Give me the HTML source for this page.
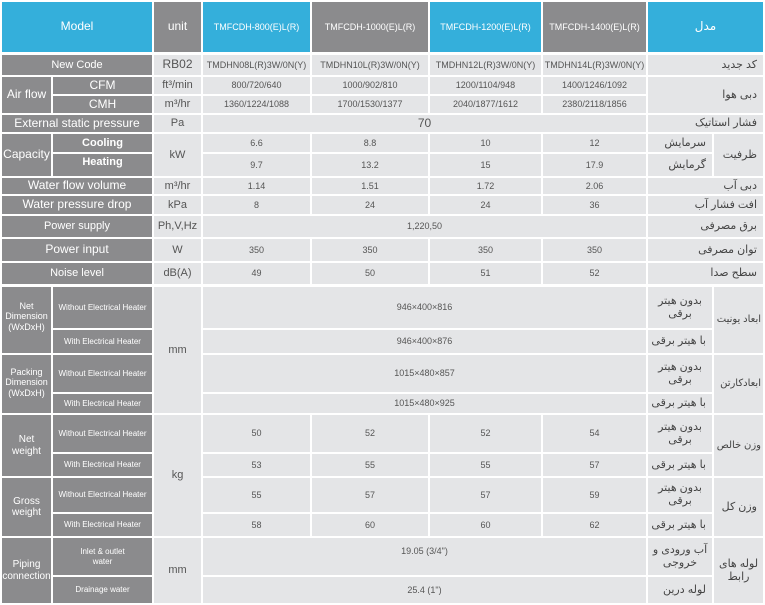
<!DOCTYPE html>
<html><head><meta charset="utf-8"><style>
body{margin:0;width:765px;height:605px;background:#fff;position:relative;overflow:hidden;font-family:"Liberation Sans",sans-serif}
.c{position:absolute;display:flex;align-items:center;justify-content:center;text-align:center;box-sizing:border-box;line-height:1.15}
.g{background:#8b8b8d;color:#fff;font-size:11px}
.gs{background:#8b8b8d;color:#fff;font-size:8px}
.b{background:#34afdb;color:#fff;font-size:9px}
.u{background:#e4e5e7;color:#555;font-size:11px}
.d{background:#e4e5e7;color:#555;font-size:9px}
.p{background:#e4e5e7;color:#444;font-size:11px;font-family:"Liberation Sans","DejaVu Sans",sans-serif;direction:rtl;justify-content:flex-start;padding-right:6px;white-space:nowrap}
.s{font-size:10px;padding-right:2px}
</style></head><body>
<!-- header -->
<div class="c b" style="left:2px;top:2px;width:150px;height:50px;font-size:12px">Model</div>
<div class="c g" style="left:154px;top:2px;width:47px;height:50px;font-size:12px">unit</div>
<div class="c b" style="left:203px;top:2px;width:107px;height:50px">TMFCDH-800(E)L(R)</div>
<div class="c g" style="left:312px;top:2px;width:116px;height:50px;font-size:9px">TMFCDH-1000(E)L(R)</div>
<div class="c b" style="left:430px;top:2px;width:111px;height:50px">TMFCDH-1200(E)L(R)</div>
<div class="c g" style="left:543px;top:2px;width:103px;height:50px;font-size:9px">TMFCDH-1400(E)L(R)</div>
<div class="c b" style="left:648px;top:2px;width:115px;height:50px;font-size:12px;font-family:'DejaVu Sans',sans-serif">مدل</div>

<!-- New code -->
<div class="c g" style="left:2px;top:55px;width:150px;height:20px">New Code</div>
<div class="c u" style="left:154px;top:55px;width:47px;height:20px;font-size:12px">RB02</div>
<div class="c d" style="left:203px;top:55px;width:107px;height:20px">TMDHN08L(R)3W/0N(Y)</div>
<div class="c d" style="left:312px;top:55px;width:116px;height:20px">TMDHN10L(R)3W/0N(Y)</div>
<div class="c d" style="left:430px;top:55px;width:111px;height:20px">TMDHN12L(R)3W/0N(Y)</div>
<div class="c d" style="left:543px;top:55px;width:103px;height:20px">TMDHN14L(R)3W/0N(Y)</div>
<div class="c p" style="left:648px;top:55px;width:115px;height:20px">کد جدید</div>

<!-- Air flow -->
<div class="c g" style="left:2px;top:77px;width:49px;height:36px;font-size:12px">Air flow</div>
<div class="c g" style="left:53px;top:77px;width:99px;height:17px;font-size:12px">CFM</div>
<div class="c g" style="left:53px;top:96px;width:99px;height:17px;font-size:12px">CMH</div>
<div class="c u" style="left:154px;top:77px;width:47px;height:17px">ft³/min</div>
<div class="c u" style="left:154px;top:96px;width:47px;height:17px">m³/hr</div>
<div class="c d" style="left:203px;top:77px;width:107px;height:17px">800/720/640</div>
<div class="c d" style="left:312px;top:77px;width:116px;height:17px">1000/902/810</div>
<div class="c d" style="left:430px;top:77px;width:111px;height:17px">1200/1104/948</div>
<div class="c d" style="left:543px;top:77px;width:103px;height:17px">1400/1246/1092</div>
<div class="c d" style="left:203px;top:96px;width:107px;height:17px">1360/1224/1088</div>
<div class="c d" style="left:312px;top:96px;width:116px;height:17px">1700/1530/1377</div>
<div class="c d" style="left:430px;top:96px;width:111px;height:17px">2040/1877/1612</div>
<div class="c d" style="left:543px;top:96px;width:103px;height:17px">2380/2118/1856</div>
<div class="c p" style="left:648px;top:77px;width:115px;height:36px">دبی هوا</div>

<!-- ESP -->
<div class="c g" style="left:2px;top:115px;width:150px;height:17px;font-size:12px">External static pressure</div>
<div class="c u" style="left:154px;top:115px;width:47px;height:17px">Pa</div>
<div class="c d" style="left:203px;top:115px;width:443px;height:17px;font-size:12px">70</div>
<div class="c p" style="left:648px;top:115px;width:115px;height:17px">فشار استاتیک</div>

<!-- Capacity -->
<div class="c g" style="left:2px;top:134px;width:49px;height:42px;font-size:12px">Capacity</div>
<div class="c g" style="left:53px;top:134px;width:99px;height:18px;font-weight:bold">Cooling</div>
<div class="c g" style="left:53px;top:154px;width:99px;height:22px;font-weight:bold;align-items:flex-start;padding-top:2px">Heating</div>
<div class="c u" style="left:154px;top:134px;width:47px;height:42px">kW</div>
<div class="c d" style="left:203px;top:134px;width:107px;height:18px">6.6</div>
<div class="c d" style="left:312px;top:134px;width:116px;height:18px">8.8</div>
<div class="c d" style="left:430px;top:134px;width:111px;height:18px">10</div>
<div class="c d" style="left:543px;top:134px;width:103px;height:18px">12</div>
<div class="c d" style="left:203px;top:154px;width:107px;height:22px">9.7</div>
<div class="c d" style="left:312px;top:154px;width:116px;height:22px">13.2</div>
<div class="c d" style="left:430px;top:154px;width:111px;height:22px">15</div>
<div class="c d" style="left:543px;top:154px;width:103px;height:22px">17.9</div>
<div class="c p" style="left:648px;top:134px;width:64px;height:18px">سرمایش</div>
<div class="c p" style="left:648px;top:154px;width:64px;height:22px">گرمایش</div>
<div class="c p" style="left:714px;top:134px;width:49px;height:42px">ظرفیت</div>

<!-- water flow -->
<div class="c g" style="left:2px;top:178px;width:150px;height:16px;font-size:12px">Water flow volume</div>
<div class="c u" style="left:154px;top:178px;width:47px;height:16px">m³/hr</div>
<div class="c d" style="left:203px;top:178px;width:107px;height:16px">1.14</div>
<div class="c d" style="left:312px;top:178px;width:116px;height:16px">1.51</div>
<div class="c d" style="left:430px;top:178px;width:111px;height:16px">1.72</div>
<div class="c d" style="left:543px;top:178px;width:103px;height:16px">2.06</div>
<div class="c p" style="left:648px;top:178px;width:115px;height:16px">دبی آب</div>

<!-- water pressure -->
<div class="c g" style="left:2px;top:196px;width:150px;height:18px;font-size:12px">Water pressure drop</div>
<div class="c u" style="left:154px;top:196px;width:47px;height:18px">kPa</div>
<div class="c d" style="left:203px;top:196px;width:107px;height:18px">8</div>
<div class="c d" style="left:312px;top:196px;width:116px;height:18px">24</div>
<div class="c d" style="left:430px;top:196px;width:111px;height:18px">24</div>
<div class="c d" style="left:543px;top:196px;width:103px;height:18px">36</div>
<div class="c p" style="left:648px;top:196px;width:115px;height:18px">افت فشار آب</div>

<!-- power supply -->
<div class="c g" style="left:2px;top:216px;width:150px;height:21px">Power supply</div>
<div class="c u" style="left:154px;top:216px;width:47px;height:21px">Ph,V,Hz</div>
<div class="c d" style="left:203px;top:216px;width:443px;height:21px">1,220,50</div>
<div class="c p" style="left:648px;top:216px;width:115px;height:21px">برق مصرفی</div>

<!-- power input -->
<div class="c g" style="left:2px;top:239px;width:150px;height:22px;font-size:12px">Power input</div>
<div class="c u" style="left:154px;top:239px;width:47px;height:22px">W</div>
<div class="c d" style="left:203px;top:239px;width:107px;height:22px">350</div>
<div class="c d" style="left:312px;top:239px;width:116px;height:22px">350</div>
<div class="c d" style="left:430px;top:239px;width:111px;height:22px">350</div>
<div class="c d" style="left:543px;top:239px;width:103px;height:22px">350</div>
<div class="c p" style="left:648px;top:239px;width:115px;height:22px">توان مصرفی</div>

<!-- noise -->
<div class="c g" style="left:2px;top:263px;width:150px;height:21px">Noise level</div>
<div class="c u" style="left:154px;top:263px;width:47px;height:21px">dB(A)</div>
<div class="c d" style="left:203px;top:263px;width:107px;height:21px">49</div>
<div class="c d" style="left:312px;top:263px;width:116px;height:21px">50</div>
<div class="c d" style="left:430px;top:263px;width:111px;height:21px">51</div>
<div class="c d" style="left:543px;top:263px;width:103px;height:21px">52</div>
<div class="c p" style="left:648px;top:263px;width:115px;height:21px">سطح صدا</div>

<!-- Net dim / packing -->
<div class="c g" style="left:2px;top:287px;width:49px;height:66px;font-size:9px;align-items:flex-start;padding-top:14px">Net<br>Dimension<br>(WxDxH)</div>
<div class="c gs" style="left:53px;top:287px;width:99px;height:41px;align-items:flex-start;padding-top:16px">Without Electrical Heater</div>
<div class="c gs" style="left:53px;top:330px;width:99px;height:23px">With Electrical Heater</div>
<div class="c g" style="left:2px;top:355px;width:49px;height:58px;font-size:9px;align-items:flex-start;padding-top:12px">Packing<br>Dimension<br>(WxDxH)</div>
<div class="c gs" style="left:53px;top:355px;width:99px;height:37px">Without Electrical Heater</div>
<div class="c gs" style="left:53px;top:394px;width:99px;height:19px">With Electrical Heater</div>
<div class="c u" style="left:154px;top:287px;width:47px;height:126px">mm</div>
<div class="c d" style="left:203px;top:287px;width:443px;height:41px">946×400×816</div>
<div class="c d" style="left:203px;top:330px;width:443px;height:23px">946×400×876</div>
<div class="c d" style="left:203px;top:355px;width:443px;height:37px">1015×480×857</div>
<div class="c d" style="left:203px;top:394px;width:443px;height:19px">1015×480×925</div>
<div class="c p" style="left:648px;top:287px;width:64px;height:41px;justify-content:center;padding:0">بدون هیتر<br>برقی</div>
<div class="c p" style="left:648px;top:330px;width:64px;height:23px">با هیتر برقی</div>
<div class="c p" style="left:648px;top:355px;width:64px;height:37px;justify-content:center;padding:0">بدون هیتر<br>برقی</div>
<div class="c p" style="left:648px;top:394px;width:64px;height:19px">با هیتر برقی</div>
<div class="c p s" style="left:714px;top:287px;width:49px;height:66px">ابعاد یونیت</div>
<div class="c p s" style="left:714px;top:355px;width:49px;height:58px">ابعادکارتن</div>

<!-- weights -->
<div class="c g" style="left:2px;top:415px;width:49px;height:61px;font-size:10px">Net<br>weight</div>
<div class="c gs" style="left:53px;top:415px;width:99px;height:37px">Without Electrical Heater</div>
<div class="c gs" style="left:53px;top:454px;width:99px;height:22px">With Electrical Heater</div>
<div class="c g" style="left:2px;top:478px;width:49px;height:58px;font-size:10px">Gross<br>weight</div>
<div class="c gs" style="left:53px;top:478px;width:99px;height:34px">Without Electrical Heater</div>
<div class="c gs" style="left:53px;top:514px;width:99px;height:22px">With Electrical Heater</div>
<div class="c u" style="left:154px;top:415px;width:47px;height:121px">kg</div>
<div class="c d" style="left:203px;top:415px;width:107px;height:37px">50</div>
<div class="c d" style="left:312px;top:415px;width:116px;height:37px">52</div>
<div class="c d" style="left:430px;top:415px;width:111px;height:37px">52</div>
<div class="c d" style="left:543px;top:415px;width:103px;height:37px">54</div>
<div class="c d" style="left:203px;top:454px;width:107px;height:22px">53</div>
<div class="c d" style="left:312px;top:454px;width:116px;height:22px">55</div>
<div class="c d" style="left:430px;top:454px;width:111px;height:22px">55</div>
<div class="c d" style="left:543px;top:454px;width:103px;height:22px">57</div>
<div class="c d" style="left:203px;top:478px;width:107px;height:34px">55</div>
<div class="c d" style="left:312px;top:478px;width:116px;height:34px">57</div>
<div class="c d" style="left:430px;top:478px;width:111px;height:34px">57</div>
<div class="c d" style="left:543px;top:478px;width:103px;height:34px">59</div>
<div class="c d" style="left:203px;top:514px;width:107px;height:22px">58</div>
<div class="c d" style="left:312px;top:514px;width:116px;height:22px">60</div>
<div class="c d" style="left:430px;top:514px;width:111px;height:22px">60</div>
<div class="c d" style="left:543px;top:514px;width:103px;height:22px">62</div>
<div class="c p" style="left:648px;top:415px;width:64px;height:37px;justify-content:center;padding:0">بدون هیتر<br>برقی</div>
<div class="c p" style="left:648px;top:454px;width:64px;height:22px">با هیتر برقی</div>
<div class="c p" style="left:648px;top:478px;width:64px;height:34px;justify-content:center;padding:0">بدون هیتر<br>برقی</div>
<div class="c p" style="left:648px;top:514px;width:64px;height:22px">با هیتر برقی</div>
<div class="c p s" style="left:714px;top:415px;width:49px;height:61px">وزن خالص</div>
<div class="c p" style="left:714px;top:478px;width:49px;height:58px;padding-right:6px">وزن کل</div>

<!-- piping -->
<div class="c g" style="left:2px;top:538px;width:49px;height:65px;font-size:10px">Piping<br>connection</div>
<div class="c gs" style="left:53px;top:538px;width:99px;height:37px">Inlet &amp; outlet<br>water</div>
<div class="c gs" style="left:53px;top:577px;width:99px;height:26px">Drainage water</div>
<div class="c u" style="left:154px;top:538px;width:47px;height:65px">mm</div>
<div class="c d" style="left:203px;top:538px;width:443px;height:37px;align-items:flex-start;padding-top:8px">19.05 (3/4")</div>
<div class="c d" style="left:203px;top:577px;width:443px;height:26px">25.4 (1")</div>
<div class="c p" style="left:648px;top:538px;width:64px;height:37px;justify-content:center;padding:0">آب ورودی و<br>خروجی</div>
<div class="c p" style="left:648px;top:577px;width:64px;height:26px">لوله درین</div>
<div class="c p" style="left:714px;top:538px;width:49px;height:65px;justify-content:center;padding:0">لوله های<br>رابط</div>
</body></html>
